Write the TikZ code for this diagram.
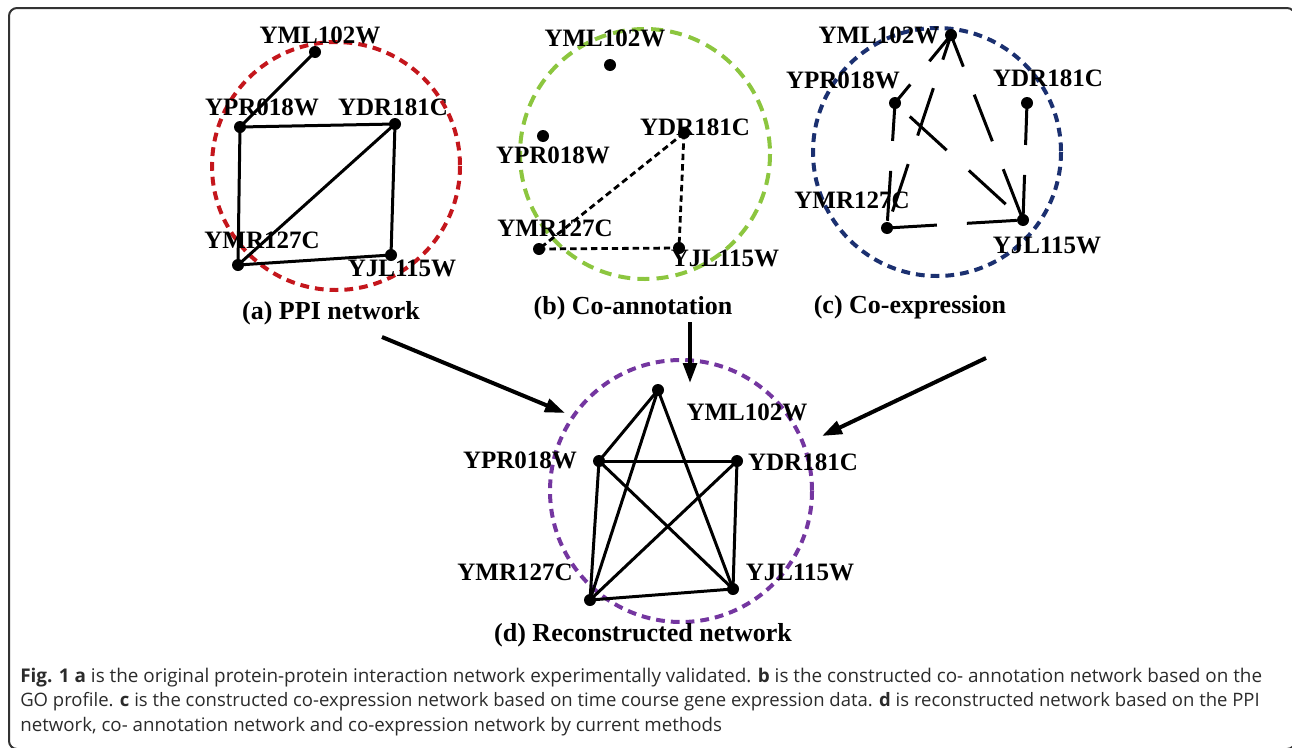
\documentclass[tikz,border=0pt]{standalone}
\usepackage{fontspec}
\setmainfont{Liberation Serif}
\newfontfamily\capfont{Open Sans}
\usetikzlibrary{arrows.meta,positioning}
\definecolor{ppired}{HTML}{C4161C}
\definecolor{anngreen}{HTML}{8CC63F}
\definecolor{expblue}{HTML}{1B3070}
\definecolor{recpurple}{HTML}{7436A0}
\definecolor{capgray}{HTML}{2B2B2B}

\begin{document}
\begin{tikzpicture}[x=0.25mm, y=-0.25mm, every node/.style={font=\fontsize{17.8}{20}\selectfont\bfseries, inner sep=0pt}, prot/.style={circle, fill=black, minimum size=3mm}, edge/.style={line width=0.75mm}, ring/.style={line width=1mm, dash pattern=on 2.2mm off 1.5mm}, annedge/.style={line width=0.7mm, dash pattern=on 1.6mm off 1mm}, expedge/.style={line width=0.75mm, dash pattern=on 12.5mm off 7.5mm}, merge/.style={line width=1mm, -{Triangle[length=5mm, width=3.4mm]}}, panel/.style={font=\fontsize{18.5}{21}\selectfont\bfseries}, capline/.style={anchor=base west, font=\capfont\fontsize{#1}{15}\selectfont, text=capgray}]
\useasboundingbox (0,0) rectangle (1292,747);
\draw[line width=0.5mm, black!80, rounded corners=2mm] (9,8) rectangle (1295,749);

% (a) PPI network
\draw[ring, ppired] (336,166) circle (124);
\node[prot] (aYML) at (315,52) {};
\node[prot] (aYPR) at (240,127) {};
\node[prot] (aYDR) at (395,124) {};
\node[prot] (aYMR) at (238,265) {};
\node[prot] (aYJL) at (391,255) {};
\draw[edge] (aYML.center) -- (aYPR.center);
\draw[edge] (aYPR.center) -- (aYDR.center);
\draw[edge] (aYPR.center) -- (aYMR.center);
\draw[edge] (aYDR.center) -- (aYJL.center);
\draw[edge] (aYDR.center) -- (aYMR.center);
\draw[edge] (aYMR.center) -- (aYJL.center);
\node (aYMLt) at (320,35) {YML102W};
\node (aYPRt) at (262,107) {YPR018W};
\node (aYDRt) at (393,107) {YDR181C};
\node (aYMRt) at (262,240) {YMR127C};
\node (aYJLt) at (402,268) {YJL115W};
\node[panel] (aTitle) at (331,313) {(a) PPI network};

% (b) Co-annotation
\draw[ring, anngreen, dash pattern=on 3mm off 1.8mm] (645,154) circle (125);
\node[prot] (bYML) at (610,65) {};
\node[prot] (bYPR) at (543,136) {};
\node[prot] (bYDR) at (684,133) {};
\node[prot] (bYMR) at (539,249) {};
\node[prot] (bYJL) at (679,248) {};
\draw[annedge] (bYDR.center) -- (bYMR.center);
\draw[annedge] (bYDR.center) -- (bYJL.center);
\draw[annedge] (bYMR.center) -- (bYJL.center);
\node (bYMLt) at (605,38) {YML102W};
\node (bYPRt) at (553,155) {YPR018W};
\node (bYDRt) at (695,127) {YDR181C};
\node (bYMRt) at (555,228) {YMR127C};
\node (bYJLt) at (725,258) {YJL115W};
\node[panel] (bTitle) at (633,308) {(b) Co-annotation};

% (c) Co-expression
\draw[ring, expblue] (937,152) circle (124);
\node[prot] (cYML) at (951,35) {};
\node[prot] (cYPR) at (895,103) {};
\node[prot] (cYDR) at (1027,103) {};
\node[prot] (cYMR) at (887,228) {};
\node[prot] (cYJL) at (1023,220) {};
\draw[expedge, dash phase=4mm] (cYML.center) -- (cYPR.center);
\draw[expedge, dash phase=6mm] (cYML.center) -- (cYMR.center);
\draw[expedge, dash phase=4mm] (cYML.center) -- (cYJL.center);
\draw[expedge, dash phase=3mm] (cYPR.center) -- (cYMR.center);
\draw[expedge, dash phase=15mm] (cYPR.center) -- (cYJL.center);
\draw[expedge, dash phase=2mm] (cYDR.center) -- (cYJL.center);
\draw[expedge] (cYMR.center) -- (cYJL.center);
\node (cYMLt) at (879,35) {YML102W};
\node (cYPRt) at (843,80) {YPR018W};
\node (cYDRt) at (1048,78) {YDR181C};
\node (cYMRt) at (852,200) {YMR127C};
\node (cYJLt) at (1047,245) {YJL115W};
\node[panel] (cTitle) at (910,307) {(c) Co-expression};

% (d) Reconstructed network
\draw[ring, recpurple] (681,491) circle (131);
\node[prot] (dYML) at (658,390) {};
\node[prot] (dYPR) at (599,461) {};
\node[prot] (dYDR) at (737,461) {};
\node[prot] (dYMR) at (590,600) {};
\node[prot] (dYJL) at (733,589) {};
\draw[edge] (dYML.center) -- (dYPR.center);
\draw[edge] (dYML.center) -- (dYMR.center);
\draw[edge] (dYML.center) -- (dYJL.center);
\draw[edge] (dYPR.center) -- (dYDR.center);
\draw[edge] (dYPR.center) -- (dYMR.center);
\draw[edge] (dYPR.center) -- (dYJL.center);
\draw[edge] (dYDR.center) -- (dYMR.center);
\draw[edge] (dYDR.center) -- (dYJL.center);
\draw[edge] (dYMR.center) -- (dYJL.center);
\node (dYMLt) at (747,412) {YML102W};
\node (dYPRt) at (520,460) {YPR018W};
\node (dYDRt) at (803,462) {YDR181C};
\node (dYMRt) at (515,572) {YMR127C};
\node (dYJLt) at (800,572) {YJL115W};
\node[panel] (dTitle) at (643,635) {(d) Reconstructed network};

% merging arrows
\coordinate (aOut) at (382,337);
\coordinate (aIn) at (565,413);
\coordinate (bOut) at (690,322);
\coordinate (bIn) at (690,383);
\coordinate (cOut) at (986,358);
\coordinate (cIn) at (822,436);
\draw[merge] (aOut) -- (aIn);
\draw[merge] (bOut) -- (bIn);
\draw[merge] (cOut) -- (cIn);

% caption
\node[capline=13.43] (cap1) at (20,682) {{\bfseries Fig. 1 a} is the original protein-protein interaction network experimentally validated. {\bfseries b} is the constructed co- annotation network based on the};
\node[capline=13.16] (cap2) at (20,706) {GO profile. {\bfseries c} is the constructed co-expression network based on time course gene expression data. {\bfseries d} is reconstructed network based on the PPI};
\node[capline=13.3] (cap3) at (20,731) {network, co- annotation network and co-expression network by current methods};
\end{tikzpicture}
\end{document}
